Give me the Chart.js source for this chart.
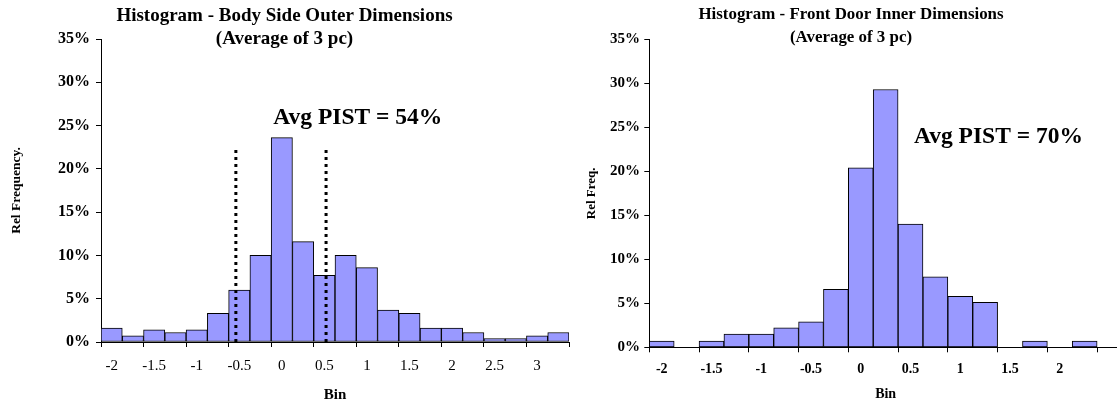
<!DOCTYPE html>
<html>
<head>
<meta charset="utf-8">
<script src="https://cdn.jsdelivr.net/npm/chart.js@4/dist/chart.umd.min.js"></script>
<style>
  html, body { margin: 0; padding: 0; overflow: hidden; background: #fff; }
  body { width: 1117px; height: 404px; position: relative; }
  .box { position: absolute; top: 0; height: 404px; }
</style>
</head>
<body>
<div class="box" style="left:0; width:570px;"><canvas id="bodyChart"></canvas></div>
<div class="box" style="left:580px; width:548px;"><canvas id="doorChart"></canvas></div>
<script>
// bin centres (step 0.25) and relative frequency in %
const bodyBins = [-2, -1.75, -1.5, -1.25, -1, -0.75, -0.5, -0.25, 0, 0.25, 0.5, 0.75, 1, 1.25, 1.5, 1.75, 2, 2.25, 2.5, 2.75, 3, 3.25]
const bodyFreq = [1.6, 0.7, 1.4, 1.1, 1.4, 3.3, 6.0, 10.0, 23.6, 11.6, 7.7, 10.0, 8.6, 3.7, 3.3, 1.6, 1.6, 1.1, 0.4, 0.4, 0.7, 1.1]
const bodyLimits = [-0.54, 0.52]   // dotted lines
const bodyLimitTop = 22.4

const doorBins = [-2, -1.75, -1.5, -1.25, -1, -0.75, -0.5, -0.25, 0, 0.25, 0.5, 0.75, 1, 1.25, 1.5, 1.75, 2, 2.25, 2.5]
const doorFreq = [0.7, 0, 0.7, 1.5, 1.5, 2.2, 2.9, 6.6, 20.4, 29.3, 14.0, 8.0, 5.8, 5.1, 0, 0.7, 0, 0.7, 0]

const yTicks = {min: 0, max: 35, step: 5}

Chart.defaults.font.family = "'Liberation Serif', 'Times New Roman', serif"
Chart.defaults.color = '#000'

const notePlugin = {
  id: 'note',
  afterDatasetsDraw(chart, args, opts) {
    const {ctx, scales} = chart
    ctx.save()
    ctx.font = 'bold ' + opts.size + "px 'Liberation Serif', serif"
    ctx.fillStyle = '#000'
    ctx.textBaseline = 'middle'
    ctx.textAlign = 'left'
    ctx.fillText(opts.text, scales.xl.getPixelForValue(opts.x), scales.y.getPixelForValue(opts.y))
    ctx.restore()
  }
}

function makeChart(id, cfg) {
  const step = cfg.bins[1] - cfg.bins[0]
  const datasets = cfg.limits.map(v => ({
    type: 'line',
    xAxisID: 'xl',
    data: [{x: v, y: 0}, {x: v, y: cfg.limitTop}],
    borderColor: '#000',
    borderWidth: 3,
    borderDash: [3, 4],
    pointRadius: 0,
    order: 0
  }))
  datasets.push({
    type: 'bar',
    xAxisID: 'x',
    data: cfg.freq,
    backgroundColor: '#9999ff',
    borderColor: '#000',
    borderWidth: 1,
    borderSkipped: false,
    grouped: false,
    barPercentage: 1,
    categoryPercentage: 1,
    order: 1
  })

  return new Chart(id, {
    type: 'bar',
    data: {labels: cfg.bins.map(String), datasets: datasets},
    plugins: [notePlugin],
    options: {
      responsive: true,
      maintainAspectRatio: false,
      animation: false,
      layout: {padding: {right: cfg.padRight}},
      plugins: {
        legend: {display: false},
        tooltip: {enabled: false},
        title: {
          display: true,
          text: cfg.title,
          color: '#000',
          font: {size: cfg.titleSize, weight: 'bold', lineHeight: '23px'},
          padding: cfg.titlePad
        },
        note: cfg.note
      },
      scales: {
        x: {
          type: 'category',
          afterFit: s => { s.height = cfg.xHeight; s.paddingLeft = 0; s.paddingRight = 0 },
          grid: {
            offset: true,
            drawOnChartArea: false,
            tickLength: 5,
            color: ctx => (ctx.type === 'tick' && ctx.index % 2 === 1) ? 'rgba(0,0,0,0)' : '#000'
          },
          border: {color: '#000', width: 1},
          ticks: {
            autoSkip: false,
            maxRotation: 0,
            padding: cfg.xPad,
            font: {size: cfg.xTickSize, weight: cfg.xTickWeight},
            callback: (v, i) => (i % 2 === 0 && i <= cfg.lastLabel) ? cfg.bins[i] : ''
          },
          title: {display: true, text: 'Bin', font: {size: cfg.binSize, weight: 'bold'}, padding: {top: 0, bottom: cfg.binPad}}
        },
        xl: {
          type: 'linear',
          display: false,
          offset: false,
          grid: {offset: false},
          min: cfg.bins[0] - step / 2,
          max: cfg.bins[cfg.bins.length - 1] + step / 2
        },
        y: {
          min: yTicks.min,
          max: yTicks.max,
          afterFit: s => { s.width = cfg.yWidth; s.paddingTop = 0; s.paddingBottom = 0 },
          grid: {drawOnChartArea: false, tickLength: 5, color: '#000'},
          border: {color: '#000', width: 1},
          ticks: {
            stepSize: yTicks.step,
            padding: cfg.yPad,
            font: {size: cfg.yTickSize, weight: 'bold'},
            callback: v => v + '%'
          },
          title: {display: true, text: cfg.yTitle, font: {size: cfg.yTitleSize, weight: 'bold'}, padding: {top: cfg.yTitlePad, bottom: 0}}
        }
      }
    }
  })
}

makeChart('bodyChart', {
  bins: bodyBins, freq: bodyFreq, limits: bodyLimits, limitTop: bodyLimitTop,
  title: ['Histogram - Body Side Outer Dimensions', '(Average of 3 pc)'],
  titleSize: 19, titlePad: {top: 4.5, bottom: -11.5},
  note: {text: 'Avg PIST = 54%', x: -0.1, y: 25.9, size: 23.5},
  padRight: 1, xHeight: 62, yWidth: 101,
  xPad: 10, xTickSize: 15, xTickWeight: 'normal', lastLabel: 99,
  binSize: 15, binPad: 0,
  yPad: 6, yTickSize: 16,
  yTitle: 'Rel Frequency.', yTitleSize: 13.5, yTitlePad: 8.6
})

makeChart('doorChart', {
  bins: doorBins, freq: doorFreq, limits: [], limitTop: 0,
  title: ['Histogram - Front Door Inner Dimensions', '(Average of 3 pc)'],
  titleSize: 16.9, titlePad: {top: 3.5, bottom: -10.2},
  note: {text: 'Avg PIST = 70%', x: 0.535, y: 23.9, size: 23.5},
  padRight: 6, xHeight: 56.7, yWidth: 69.3,
  xPad: 8.6, xTickSize: 14, xTickWeight: 'bold', lastLabel: 16,
  binSize: 14, binPad: 1.3,
  yPad: 4.3, yTickSize: 15,
  yTitle: 'Rel Freq.', yTitleSize: 13, yTitlePad: 3.9
})
</script>
</body>
</html>
